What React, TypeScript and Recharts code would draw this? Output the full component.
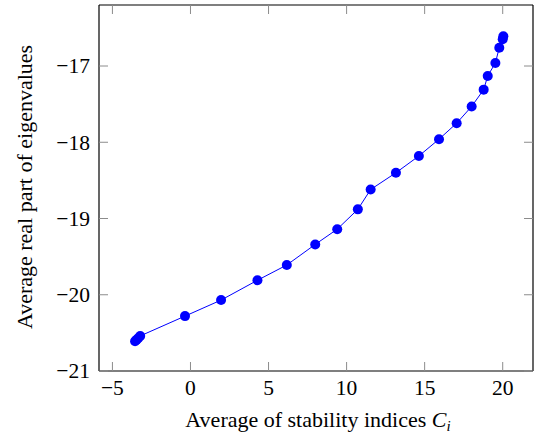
import React from "react";
import { ScatterChart, Scatter, XAxis, YAxis, Label } from "recharts";

const stabilityIdx = [
  -3.55, -3.45, -3.35, -3.22, -0.35, 1.96, 4.29, 6.17, 7.99, 9.4, 10.72, 11.54,
  13.16, 14.63, 15.92, 17.05, 18.01, 18.78, 19.04, 19.53, 19.78, 20.0, 20.04,
];
const realPart = [
  -20.61, -20.59, -20.57, -20.54, -20.28, -20.07, -19.81, -19.61, -19.34, -19.14,
  -18.88, -18.62, -18.4, -18.18, -17.96, -17.75, -17.53, -17.31, -17.13, -16.96,
  -16.76, -16.65, -16.61,
];
const xTicks = [-5, 0, 5, 10, 15, 20];
const yTicks = [-21, -20, -19, -18, -17];

const data = stabilityIdx.map((x, i) => ({ x, y: realPart[i] }));

const SERIF = "'Times New Roman', Tinos, 'Liberation Serif', serif";
const TICK_LEN = 9;
const TICK_COLOR = "#8c8c8c";

const fmt = (v: number) => (v < 0 ? "\u2212" + Math.abs(v) : String(v));

function TickBottom({ x, y, payload }: any) {
  return (
    <g>
      <line x1={x} y1={y} x2={x} y2={y - TICK_LEN} stroke={TICK_COLOR} strokeWidth={1} />
      <text x={x} y={y + 23.5} textAnchor="middle" style={{ fontFamily: SERIF, fontSize: 21.5 }}>
        {fmt(payload.value)}
      </text>
    </g>
  );
}

function TickTop({ x, y }: any) {
  return <line x1={x} y1={y} x2={x} y2={y + TICK_LEN} stroke={TICK_COLOR} strokeWidth={1} />;
}

function TickLeft({ x, y, payload }: any) {
  return (
    <g>
      <line x1={x} y1={y} x2={x + TICK_LEN} y2={y} stroke={TICK_COLOR} strokeWidth={1} />
      <text x={x - 9} y={y + 7.3} textAnchor="end" style={{ fontFamily: SERIF, fontSize: 21.5 }}>
        {fmt(payload.value)}
      </text>
    </g>
  );
}

function TickRight({ x, y }: any) {
  return <line x1={x} y1={y} x2={x - TICK_LEN} y2={y} stroke={TICK_COLOR} strokeWidth={1} />;
}

const Dot = (props: any) => <circle cx={props.cx} cy={props.cy} r={5} fill="#0000ff" />;

export default function App() {
  return (
    <div style={{ position: "absolute", left: 0, top: 0 }}>
      <ScatterChart width={534} height={437} margin={{ top: 0, right: 0, left: 0, bottom: 0 }}>
        <XAxis
          dataKey="x"
          type="number"
          domain={[-5.86, 21.94]}
          ticks={xTicks}
          allowDataOverflow
          height={66}
          tickSize={0}
          tickMargin={0}
          tickLine={false}
          axisLine={{ stroke: "#000", strokeWidth: 1.2 }}
          tick={<TickBottom />}
        >
          <Label
            content={() => (
              <text x={318} y={427} textAnchor="middle" style={{ fontFamily: SERIF, fontSize: 22 }}>
                <tspan>Average of stability indices </tspan>
                <tspan fontStyle="italic">C</tspan>
                <tspan fontStyle="italic" fontSize={15} dy={4}>i</tspan>
              </text>
            )}
          />
        </XAxis>
        <XAxis
          xAxisId="top"
          orientation="top"
          dataKey="x"
          type="number"
          domain={[-5.86, 21.94]}
          ticks={xTicks}
          allowDataOverflow
          height={5}
          tickSize={0}
          tickMargin={0}
          tickLine={false}
          axisLine={{ stroke: "#000", strokeWidth: 1.2 }}
          tick={<TickTop />}
        />
        <YAxis
          dataKey="y"
          type="number"
          domain={[-21, -16.2]}
          ticks={yTicks}
          allowDataOverflow
          width={99}
          tickSize={0}
          tickMargin={0}
          tickLine={false}
          axisLine={{ stroke: "#000", strokeWidth: 1.2 }}
          tick={<TickLeft />}
        >
          <Label
            content={() => (
              <text
                x={32}
                y={187}
                transform="rotate(-90, 32, 187)"
                textAnchor="middle"
                style={{ fontFamily: SERIF, fontSize: 22 }}
              >
                Average real part of eigenvalues
              </text>
            )}
          />
        </YAxis>
        <YAxis
          yAxisId="right"
          orientation="right"
          dataKey="y"
          type="number"
          domain={[-21, -16.2]}
          ticks={yTicks}
          allowDataOverflow
          width={1}
          tickSize={0}
          tickMargin={0}
          tickLine={false}
          axisLine={{ stroke: "#000", strokeWidth: 1.2 }}
          tick={<TickRight />}
        />
        <Scatter
          data={data}
          line={{ stroke: "#0000ff", strokeWidth: 1 }}
          shape={<Dot />}
          isAnimationActive={false}
        />
      </ScatterChart>
    </div>
  );
}
